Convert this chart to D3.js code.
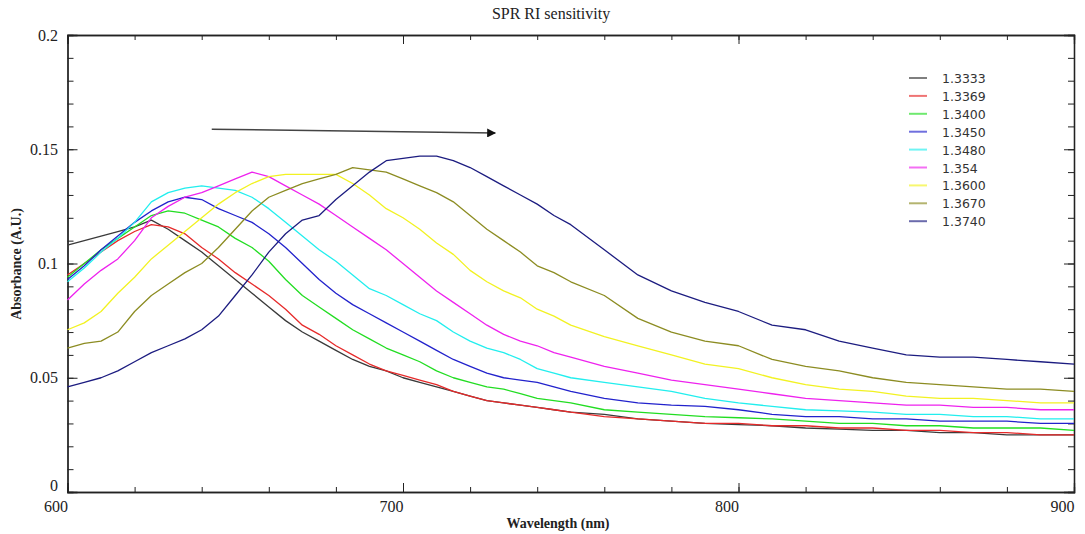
<!DOCTYPE html>
<html>
<head>
<meta charset="utf-8">
<script src="https://cdn.jsdelivr.net/npm/d3@7"></script>
<style>
  body { margin: 0; background: #fff; }
</style>
</head>
<body>
<div id="vis"></div>
<script>
// wavelength grid (nm) shared by all series
const wavelengths = [600,605,610,615,620,625,630,635,640,645,650,655,660,665,670,675,680,685,690,695,
  700,705,710,715,720,725,730,735,740,745,750,760,770,780,790,800,810,820,830,840,850,860,870,880,890,900];

const seriesNames = ['1.3333','1.3369','1.3400','1.3450','1.3480','1.354','1.3600','1.3670','1.3740'];
const seriesColors = ['#3a3a3a','#e62a2a','#22dd22','#2222cc','#22eeee','#ee22ee','#f2f222','#8c8c22','#1c1c80'];

const ri13333 = [0.108,0.110,0.112,0.114,0.116,0.119,0.115,0.110,0.105,0.099,0.093,0.087,0.081,0.075,0.070,0.066,0.062,0.058,0.055,0.053,
  0.050,0.048,0.046,0.044,0.042,0.040,0.039,0.038,0.037,0.036,0.035,0.034,0.032,0.031,0.030,0.0295,0.029,0.028,0.0275,0.027,0.027,0.026,0.026,0.025,0.025,0.025];
const ri13369 = [0.095,0.100,0.105,0.110,0.114,0.117,0.116,0.113,0.107,0.102,0.096,0.091,0.086,0.080,0.073,0.069,0.064,0.060,0.056,0.053,
  0.051,0.049,0.047,0.044,0.042,0.040,0.039,0.038,0.037,0.036,0.035,0.033,0.032,0.031,0.030,0.030,0.029,0.029,0.028,0.028,0.027,0.027,0.026,0.026,0.025,0.025];
const ri13400 = [0.094,0.100,0.106,0.111,0.116,0.121,0.123,0.122,0.119,0.116,0.111,0.107,0.101,0.093,0.086,0.081,0.076,0.071,0.067,0.063,
  0.060,0.057,0.053,0.050,0.048,0.046,0.045,0.043,0.041,0.040,0.039,0.036,0.035,0.034,0.033,0.0325,0.032,0.031,0.030,0.030,0.029,0.029,0.028,0.028,0.028,0.027];
const ri13450 = [0.093,0.099,0.106,0.112,0.118,0.123,0.127,0.129,0.128,0.124,0.121,0.118,0.113,0.107,0.100,0.093,0.087,0.082,0.078,0.074,
  0.070,0.066,0.062,0.058,0.055,0.052,0.050,0.049,0.048,0.046,0.044,0.041,0.039,0.038,0.0375,0.036,0.034,0.033,0.033,0.032,0.032,0.031,0.031,0.031,0.030,0.030];
const ri13480 = [0.092,0.098,0.105,0.111,0.118,0.127,0.131,0.133,0.134,0.133,0.132,0.129,0.124,0.118,0.112,0.106,0.101,0.095,0.089,0.086,
  0.082,0.078,0.075,0.070,0.066,0.063,0.061,0.058,0.054,0.052,0.050,0.048,0.046,0.044,0.041,0.039,0.0375,0.036,0.0355,0.035,0.034,0.034,0.033,0.033,0.032,0.032];
const ri1354 = [0.084,0.091,0.097,0.102,0.110,0.120,0.125,0.129,0.131,0.134,0.137,0.140,0.138,0.134,0.130,0.126,0.121,0.116,0.111,0.106,
  0.100,0.094,0.088,0.083,0.078,0.073,0.069,0.066,0.064,0.061,0.059,0.055,0.052,0.049,0.047,0.045,0.043,0.041,0.040,0.039,0.038,0.038,0.037,0.037,0.036,0.036];
const ri13600 = [0.071,0.074,0.079,0.087,0.094,0.102,0.108,0.114,0.120,0.126,0.131,0.135,0.138,0.139,0.139,0.139,0.139,0.135,0.130,0.124,
  0.120,0.115,0.109,0.104,0.097,0.092,0.088,0.085,0.080,0.077,0.073,0.068,0.064,0.060,0.056,0.054,0.050,0.047,0.045,0.044,0.042,0.041,0.041,0.040,0.039,0.039];
const ri13670 = [0.063,0.065,0.066,0.070,0.079,0.086,0.091,0.096,0.100,0.107,0.115,0.123,0.129,0.132,0.135,0.137,0.139,0.142,0.141,0.140,
  0.137,0.134,0.131,0.127,0.121,0.115,0.110,0.105,0.099,0.096,0.092,0.086,0.076,0.070,0.066,0.064,0.058,0.055,0.053,0.050,0.048,0.047,0.046,0.045,0.045,0.044];
const ri13740 = [0.046,0.048,0.050,0.053,0.057,0.061,0.064,0.067,0.071,0.077,0.086,0.095,0.105,0.113,0.119,0.121,0.128,0.134,0.140,0.145,
  0.146,0.147,0.147,0.145,0.142,0.138,0.134,0.130,0.126,0.121,0.117,0.106,0.095,0.088,0.083,0.079,0.073,0.071,0.066,0.063,0.060,0.059,0.059,0.058,0.057,0.056];

const seriesValues = [ri13333, ri13369, ri13400, ri13450, ri13480, ri1354, ri13600, ri13670, ri13740];

// arrow drawn on the plot, in data units
const arrowStart = [643, 0.1588];
const arrowEnd = [727.5, 0.1571];

const margin = { top: 35, right: 11, bottom: 42, left: 67.5 };
const W = 1085, H = 534;
const width = W - margin.left - margin.right;
const height = H - margin.top - margin.bottom;
const serif = '"Times New Roman", "Liberation Serif", Times, serif';

const svg = d3.select('#vis')
    .append('svg')
    .attr('width', W)
    .attr('height', H);

const g = svg.append('g')
    .attr('transform', `translate(${margin.left},${margin.top})`);

const xScale = d3.scaleLinear().domain([600, 900]).range([0, width]);
const yScale = d3.scaleLinear().domain([0, 0.2]).range([height, 0]);

// axes: ticks point into the plot on all four sides
const minorX = d3.range(600, 901, 20);
const minorY = d3.range(0, 0.2001, 0.01);
const majorX = [600, 700, 800, 900];
const majorY = [0, 0.05, 0.1, 0.15, 0.2];

function styleAxis(sel) {
    sel.attr('font-family', serif);
    sel.select('.domain').attr('stroke', '#222').attr('stroke-width', 1.3);
    sel.selectAll('.tick line').attr('stroke', '#222').attr('stroke-width', 1);
}

// minor ticks
g.append('g').attr('transform', `translate(0,${height})`)
    .call(d3.axisBottom(xScale).tickValues(minorX).tickSize(-5).tickFormat(''))
    .call(styleAxis);
g.append('g')
    .call(d3.axisTop(xScale).tickValues(minorX).tickSize(-5).tickFormat(''))
    .call(styleAxis);
g.append('g')
    .call(d3.axisLeft(yScale).tickValues(minorY).tickSize(-6).tickFormat(''))
    .call(styleAxis);
g.append('g').attr('transform', `translate(${width},0)`)
    .call(d3.axisRight(yScale).tickValues(minorY).tickSize(-6).tickFormat(''))
    .call(styleAxis);

// major ticks with labels
const xAxis = g.append('g').attr('transform', `translate(0,${height})`)
    .call(d3.axisBottom(xScale).tickValues(majorX).tickSize(-9).tickPadding(9).tickFormat(d3.format('d')))
    .call(styleAxis);
xAxis.selectAll('text')
    .attr('font-size', 16).attr('fill', '#222')
    .attr('text-anchor', 'end');

const yAxis = g.append('g')
    .call(d3.axisLeft(yScale).tickValues(majorY).tickSize(-10).tickPadding(9.5).tickFormat(d => d === 0 ? '0' : String(+d.toFixed(2))))
    .call(styleAxis);
yAxis.selectAll('text').attr('font-size', 16).attr('fill', '#222');
// the "0" sits a little above its tick so it clears the "600" below
yAxis.selectAll('text').filter(d => d === 0).attr('dy', '-0.1em');

g.append('g').call(d3.axisTop(xScale).tickValues(majorX).tickSize(-9).tickFormat('')).call(styleAxis);
g.append('g').attr('transform', `translate(${width},0)`)
    .call(d3.axisRight(yScale).tickValues(majorY).tickSize(-10).tickFormat('')).call(styleAxis);

// curves
const line = d3.line()
    .x((d, i) => xScale(wavelengths[i]))
    .y(d => yScale(d));

g.selectAll('.curve')
    .data(seriesValues)
    .enter()
    .append('path')
    .attr('class', 'curve')
    .attr('d', d => line(d))
    .attr('fill', 'none')
    .attr('stroke', (d, i) => seriesColors[i])
    .attr('stroke-width', 1.3)
    .attr('stroke-linejoin', 'round');

// arrow
svg.append('defs').append('marker')
    .attr('id', 'head')
    .attr('viewBox', '0 0 10 10')
    .attr('refX', 9).attr('refY', 5)
    .attr('markerWidth', 6).attr('markerHeight', 6)
    .attr('orient', 'auto')
    .append('path')
    .attr('d', 'M0,0L10,5L0,10Z')
    .attr('fill', '#111');

g.append('line')
    .attr('x1', xScale(arrowStart[0])).attr('y1', yScale(arrowStart[1]))
    .attr('x2', xScale(arrowEnd[0])).attr('y2', yScale(arrowEnd[1]))
    .attr('stroke', '#444')
    .attr('stroke-width', 1.5)
    .attr('marker-end', 'url(#head)');

// legend
const legend = svg.append('g').attr('transform', 'translate(909,78)');
const rows = legend.selectAll('.row')
    .data(seriesNames)
    .enter()
    .append('g')
    .attr('transform', (d, i) => `translate(0,${i * 17.9})`);
rows.append('line')
    .attr('x1', 0).attr('x2', 18)
    .attr('stroke', (d, i) => seriesColors[i])
    .attr('stroke-opacity', 0.65)
    .attr('stroke-width', 2);
rows.append('text')
    .attr('x', 33).attr('y', 5)
    .attr('font-family', '"DejaVu Sans", sans-serif')
    .attr('font-size', 12.5)
    .attr('fill', '#333')
    .text(d => d);

// titles
svg.append('text')
    .attr('x', 551).attr('y', 19)
    .attr('text-anchor', 'middle')
    .attr('font-family', serif)
    .attr('font-size', 16)
    .attr('fill', '#222')
    .text('SPR RI sensitivity');

svg.append('text')
    .attr('x', 558).attr('y', 528)
    .attr('text-anchor', 'middle')
    .attr('font-family', serif)
    .attr('font-weight', 'bold')
    .attr('font-size', 14)
    .attr('fill', '#222')
    .text('Wavelength (nm)');

svg.append('text')
    .attr('transform', 'rotate(-90)')
    .attr('x', -264).attr('y', 21)
    .attr('text-anchor', 'middle')
    .attr('font-family', serif)
    .attr('font-weight', 'bold')
    .attr('font-size', 14)
    .attr('fill', '#222')
    .text('Absorbance (A.U.)');
</script>
</body>
</html>
